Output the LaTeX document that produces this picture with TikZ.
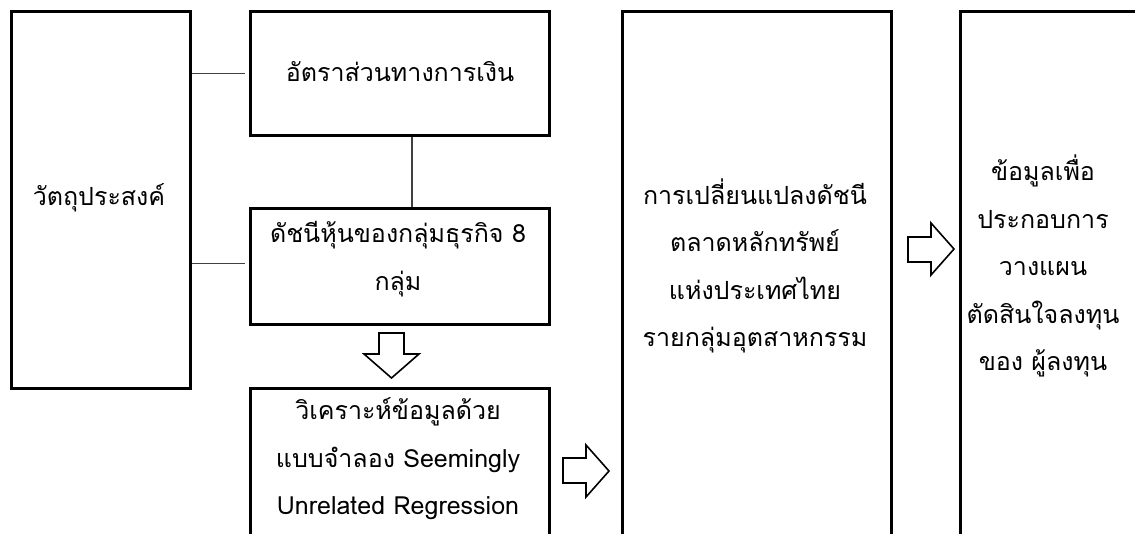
\documentclass[tikz,border=0pt]{standalone}
\usepackage{fontspec}
\newfontfamily\thaifont[Script=Thai]{Loma}
\begin{document}
\begin{tikzpicture}[x=1pt,y=-1pt,
  box/.style={draw, line width=2.6pt, anchor=north west, inner sep=0pt},
  txt/.style={align=center, inner sep=0pt, font=\thaifont\fontsize{25pt}{47.5pt}\selectfont},
  link/.style={draw, line width=1.4pt, black!75},
  blockarrow/.style={draw, line width=1.6pt, fill=white, line join=miter}]
\useasboundingbox (0,0) rectangle (1135,533);
\clip (0,0) rectangle (1135,533);
\fill[white] (0,0) rectangle (1135,533);
% boxes
\node[box, minimum width=179pt, minimum height=377pt] (b1) at (10,10) {};
\node[box, minimum width=299pt, minimum height=124pt] (b2) at (249,10) {};
\node[box, minimum width=299pt, minimum height=116pt] (b3) at (249,207) {};
\node[box, minimum width=299pt, minimum height=200pt] (b5) at (249,387) {};
\node[box, minimum width=269pt, minimum height=580pt] (b4) at (621,10) {};
\node[box, minimum width=220pt, minimum height=580pt] (b6) at (959,10) {};
% texts
\node[txt] (t1) at (99,198) {วัตถุประสงค์};
\node[txt] (t2) at (400,72) {อัตราส่วนทางการเงิน};
\node[txt] (t3) at (398,259) {ดัชนีหุ้นของกลุ่มธุรกิจ 8\\กลุ่ม};
\node[txt] (t5) at (398,459) {วิเคราะห์ข้อมูลด้วย\\แบบจำลอง Seemingly\\Unrelated Regression};
\node[txt] (t4) at (755,266) {การเปลี่ยนแปลงดัชนี\\ตลาดหลักทรัพย์\\แห่งประเทศไทย\\รายกลุ่มอุตสาหกรรม};
\node[txt] (t6) at (1043,266) {ข้อมูลเพื่อ\\ประกอบการ\\วางแผน\\ตัดสินใจลงทุน\\ของ ผู้ลงทุน};
% connectors
\draw[link] (b1.east |- b2.west) -- ([xshift=-4pt]b2.west);
\draw[link] ([yshift=3pt]b1.east |- b3.west) -- ([xshift=-4pt,yshift=3pt]b3.west);
\draw[link] ([xshift=12pt]b2.south) -- ([xshift=12pt]b3.north);
% block arrows
\draw[blockarrow] (379,333) -- (404,333) -- (404,354) -- (419,354) -- (391.5,378) -- (364,354) -- (379,354) -- cycle;
\draw[blockarrow] (563,458) -- (586,458) -- (586,445) -- (609,471) -- (586,497) -- (586,483) -- (563,483) -- cycle;
\draw[blockarrow] (908,237) -- (931,237) -- (931,223) -- (954,249) -- (931,275) -- (931,262) -- (908,262) -- cycle;
\end{tikzpicture}
\end{document}
